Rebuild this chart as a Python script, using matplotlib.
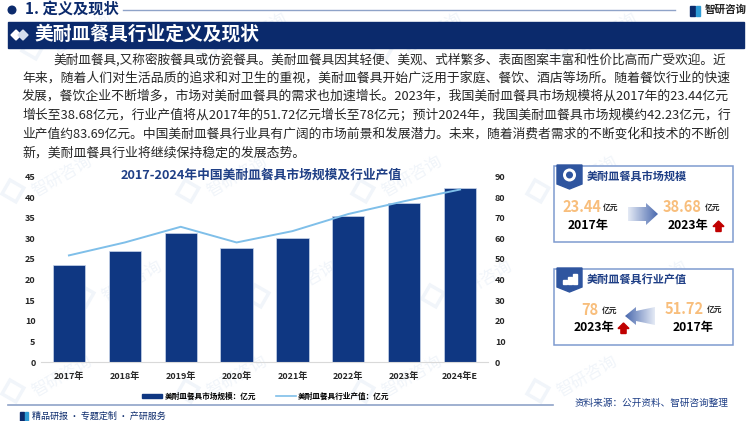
import numpy as np
import matplotlib
matplotlib.use("Agg")
import matplotlib.pyplot as plt
from matplotlib.colors import LinearSegmentedColormap
from matplotlib.lines import Line2D
from matplotlib.patches import Circle, Patch, Polygon, Rectangle

plt.rcParams['font.family'] = ['Noto Sans CJK SC', 'DejaVu Sans']

# =====================================================
# DATA
# =====================================================

years = ['2017年', '2018年', '2019年', '2020年', '2021年', '2022年', '2023年', '2024年E']
market_size = [23.44, 26.9, 31.3, 27.6, 30.0, 35.4, 38.68, 42.23]
industry_value = [51.72, 58.0, 65.6, 58.0, 63.5, 71.8, 78.0, 83.69]

left_ticks = [0, 5, 10, 15, 20, 25, 30, 35, 40, 45]
right_ticks = [0, 10, 20, 30, 40, 50, 60, 70, 80, 90]

paragraph = [
    '美耐皿餐具,又称密胺餐具或仿瓷餐具。美耐皿餐具因其轻便、美观、式样繁多、表面图案丰富和性价比高而广受欢迎。近',
    '年来，随着人们对生活品质的追求和对卫生的重视，美耐皿餐具开始广泛用于家庭、餐饮、酒店等场所。随着餐饮行业的快速',
    '发展，餐饮企业不断增多，市场对美耐皿餐具的需求也加速增长。2023年，我国美耐皿餐具市场规模将从2017年的23.44亿元',
    '增长至38.68亿元，行业产值将从2017年的51.72亿元增长至78亿元；预计2024年，我国美耐皿餐具市场规模约42.23亿元，行',
    '业产值约83.69亿元。中国美耐皿餐具行业具有广阔的市场前景和发展潜力。未来，随着消费者需求的不断变化和技术的不断创',
    '新，美耐皿餐具行业将继续保持稳定的发展态势。',
]
para_left = [53, 22, 22, 22, 22, 22]
para_y = [60, 78, 96, 115, 134, 153]

NAVY = '#0B2A6C'
BAR = '#0F3782'
LINE = '#7FBFE9'
TITLE = '#1F3F86'
ORANGE = '#F8BE7C'
RED = '#C00000'
EDGE = '#7F9BD0'
MARK = '#F1F5FA'

W, H = 750, 421

fig = plt.figure(figsize=(7.5, 4.21), dpi=100)

# page layer, in pixels
bg = fig.add_axes([0, 0, 1, 1], zorder=0)
bg.set_xlim(0, W)
bg.set_ylim(H, 0)
bg.axis('off')

# =====================================================
# WATERMARK
# =====================================================

for wy, shift in [(42, 60), (185, 40), (290, 110), (385, 40)]:
    for wx in range(shift, 680, 175):
        bg.add_patch(Rectangle((wx - 30, wy - 5), 16, 16, angle=30, fill=False,
                               edgecolor=MARK, linewidth=2.5, zorder=0.2))
        bg.text(wx + 22, wy - 8, '智研咨询', color=MARK, fontsize=12, rotation=30,
                ha='center', va='center', zorder=0.2)

# =====================================================
# HEADER
# =====================================================

bg.add_patch(Circle((12, 10), 3.8, color=NAVY))
bg.text(25, 10, '1. 定义及现状', color=NAVY, fontsize=11, fontweight='bold', va='center')
bg.plot([123, 675], [10, 10], color='#8FA3C8', linewidth=1)

bg.add_patch(Rectangle((690, 6), 5, 10, color=NAVY))
bg.add_patch(Rectangle((696, 6), 3.5, 10, color='#2E9BD6'))
bg.text(705, 10, '智研咨询', color='#222222', fontsize=7.6, fontweight='bold', va='center')

bg.add_patch(Rectangle((8, 22), 736, 26, color=NAVY))
bg.add_patch(Polygon([(11, 35), (16, 30), (21, 35), (16, 40)], color='white'))
bg.add_patch(Polygon([(18, 35), (23, 30), (28, 35), (23, 40)], color='#D5DEEE'))
bg.text(34, 34.5, '美耐皿餐具行业定义及现状', color='white', fontsize=13.5,
        fontweight='bold', va='center')

# =====================================================
# PARAGRAPH
# =====================================================

renderer = fig.canvas.get_renderer()
for i in range(len(paragraph)):
    t = bg.text(para_left[i], para_y[i], paragraph[i], color='#262626', fontsize=9.3, va='center')
    if i < 5:
        # lines are justified up to the right margin
        width = t.get_window_extent(renderer).width
        t.set_fontsize(9.3 * (727 - para_left[i]) / width)

# =====================================================
# CHART
# =====================================================

ax = fig.add_axes([41 / W, (H - 362) / H, 447 / W, 185.5 / H], zorder=2)
ax.patch.set_alpha(0)

x = np.arange(len(years))
ax.bar(x, market_size, width=0.575, color=BAR, edgecolor='#C9D6EA', linewidth=0.5)
ax.set_xlim(-0.5, 7.5)
ax.set_ylim(0, 45)
ax.set_xticks(x)
ax.set_xticklabels(years, fontsize=6.5, fontweight='bold', color='#262626')
ax.set_yticks(left_ticks)
ax.set_yticklabels(left_ticks, fontsize=6.5, fontweight='bold', color='#262626')
ax.tick_params(axis='both', length=0)
ax.tick_params(axis='x', pad=7)
ax.tick_params(axis='y', pad=4)
for side in ['top', 'right', 'left']:
    ax.spines[side].set_visible(False)
ax.spines['bottom'].set_color('#D9D9D9')

ax2 = ax.twinx()
ax2.patch.set_alpha(0)
ax2.plot(x, industry_value, color=LINE, linewidth=1.4)
ax2.set_ylim(0, 90)
ax2.set_yticks(right_ticks)
ax2.set_yticklabels(right_ticks, fontsize=6.5, fontweight='bold', color='#262626')
ax2.tick_params(axis='y', length=0, pad=5)
for side in ['top', 'right', 'left', 'bottom']:
    ax2.spines[side].set_visible(False)

fig.text(261 / W, 1 - 175 / H, '2017-2024年中国美耐皿餐具市场规模及行业产值', color=TITLE,
         fontsize=9.2, fontweight='bold', ha='center', va='center', zorder=3)

handles = [Patch(color=BAR), Line2D([0], [0], color=LINE, linewidth=1.2)]
fig.legend(handles, ['美耐皿餐具市场规模：亿元', '美耐皿餐具行业产值：亿元'],
           loc='center', bbox_to_anchor=(266 / W, 1 - 396 / H), ncol=2, frameon=False,
           prop={'size': 5.5, 'weight': 'bold'}, handlelength=2.6, handleheight=0.4,
           handletextpad=0.3, columnspacing=2.6)

# =====================================================
# SIDE BOXES
# =====================================================

def gradient_arrow(points, left_color, right_color):
    cmap = LinearSegmentedColormap.from_list('arrow', [left_color, right_color])
    xs = [p[0] for p in points]
    ys = [p[1] for p in points]
    img = bg.imshow(np.linspace(0, 1, 64).reshape(1, -1), cmap=cmap, aspect='auto', zorder=2,
                    extent=(min(xs), max(xs), max(ys), min(ys)))
    clip = Polygon(points, transform=bg.transData, fill=False, edgecolor='none')
    bg.add_patch(clip)
    img.set_clip_path(clip)
    bg.set_xlim(0, W)
    bg.set_ylim(H, 0)


def red_arrow(cx, top):
    bg.add_patch(Polygon([(cx - 5.5, top + 5.5), (cx, top), (cx + 5.5, top + 5.5), (cx + 2.6, top + 5.5),
                          (cx + 2.6, top + 10.5), (cx - 2.6, top + 10.5), (cx - 2.6, top + 5.5)],
                         color=RED, zorder=3))


def side_box(top, title):
    bg.add_patch(Rectangle((553.5, top), 179, 76, facecolor='white', edgecolor=EDGE,
                           linewidth=1.1, zorder=1))
    bg.add_patch(Polygon([(557, top - 1), (582, top - 1), (582, top + 18), (569.5, top + 23), (557, top + 18)],
                         color='#2F559F', zorder=2))
    bg.text(587, top + 11, title, color=TITLE, fontsize=8, fontweight='bold', va='center', zorder=3)


def number(x0, x1, y, value):
    bg.text(x0, y, value, color=ORANGE, fontsize=10.5, fontweight='bold', va='center', zorder=3)
    bg.text(x1, y, '亿元', color='#262626', fontsize=5.6, fontweight='bold', va='center', zorder=3)


def year_label(x0, y, label):
    bg.text(x0, y, label, color='black', fontsize=8.8, fontweight='bold', va='center', zorder=3)


side_box(166, '美耐皿餐具市场规模')
bg.add_patch(Circle((569.5, 175), 6.5, facecolor='white', edgecolor='none', zorder=3))
bg.add_patch(Circle((569.5, 175), 3.5, facecolor='#2F559F', edgecolor='none', zorder=4))
number(562, 603, 207, '23.44')
number(663, 705, 207, '38.68')
year_label(568, 226, '2017年')
year_label(668, 226, '2023年')
red_arrow(718.5, 221)
gradient_arrow([(628, 207), (646, 207), (646, 203), (658, 214), (646, 225), (646, 221), (628, 221)],
               '#E4EAF5', '#4A69AE')

side_box(269, '美耐皿餐具行业产值')
for bx, bh in [(563, 4), (568, 7), (573, 10)]:
    bg.add_patch(Rectangle((bx, 284 - bh), 3.5, bh, color='white', zorder=3))
number(581, 602, 310, '78')
number(665, 707, 309, '51.72')
year_label(574, 328, '2023年')
year_label(673, 328, '2017年')
red_arrow(623.5, 323)
gradient_arrow([(625, 316), (636, 307), (636, 311), (655, 307), (655, 325), (636, 321), (636, 325)],
               '#4A69AE', '#E4EAF5')

# =====================================================
# FOOTER
# =====================================================

bg.plot([8, 553], [405, 405], color='#8FA3C8', linewidth=1.2)
bg.add_patch(Rectangle((20, 412), 4, 8.5, color=NAVY))
bg.add_patch(Rectangle((25, 412), 3, 8.5, color='#2E9BD6'))
bg.text(32, 416, '精品研报 · 专题定制 · 产研服务', color=NAVY, fontsize=6.5, va='center')
bg.text(575, 403, '资料来源：公开资料、智研咨询整理', color=TITLE, fontsize=6.9, va='center')

fig.savefig('out.png', dpi=100)
